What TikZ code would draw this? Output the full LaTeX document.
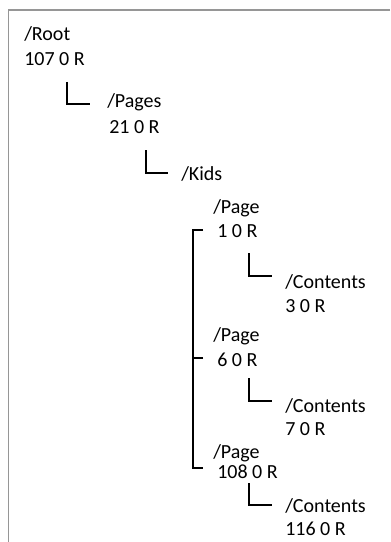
\documentclass[tikz,border=0pt]{standalone}
\usepackage{fontspec}
\setmainfont{Carlito}
\usetikzlibrary{calc}
\definecolor{framegray}{RGB}{150,150,150}
\begin{document}
\begin{tikzpicture}[x=0.75pt,y=-0.75pt,
  lbl/.style={anchor=base west, inner sep=0pt, font=\fontsize{15}{17}\selectfont},
  conn/.style={draw=black, line width=0.9pt},
  frame/.style={draw=framegray, line width=1.1pt}]
\useasboundingbox (0,0) rectangle (390,542);
\draw[frame] (390,10) -- (8.5,10) -- (8.5,542);
% labels
\node[lbl] (root)  at (24,41)  {/Root};
\node[lbl] (rootn) at (24,65)  {107 0 R};
\node[lbl] (pages) at (107,108) {/Pages};
\node[lbl] (pagesn) at (109,133) {21 0 R};
\node[lbl] (kids)  at (181,180) {/Kids};
\node[lbl] (p1)    at (213,213) {/Page};
\node[lbl] (n1)    at (217,237) {1 0 R};
\node[lbl] (c1)    at (285,288) {/Contents};
\node[lbl] (c1n)   at (285,312) {3 0 R};
\node[lbl] (p2)    at (213,341) {/Page};
\node[lbl] (n2)    at (217,366) {6 0 R};
\node[lbl] (c2)    at (285,412) {/Contents};
\node[lbl] (c2n)   at (285,435) {7 0 R};
\node[lbl] (p3)    at (213,458) {/Page};
\node[lbl] (n3)    at (217,478) {108 0 R};
\node[lbl] (c3)    at (285,512) {/Contents};
\node[lbl] (c3n)   at (285,535) {116 0 R};
% corners
\draw[conn] ($(rootn.base west)+(43,17)$) |- ($(pages.base west)+(-17,-4)$);
\draw[conn] ($(pagesn.base west)+(37,17)$) |- ($(kids.base west)+(-13,-7)$);
\draw[conn] ($(n1.base west)+(32,16)$) |- ($(c1.base west)+(-13,-12)$);
\draw[conn] ($(n2.base west)+(32,12)$) |- ($(c2.base west)+(-13,-11)$);
\draw[conn] ($(n3.base west)+(32,5)$) |- ($(c3.base west)+(-13,-7)$);
% bracket
\draw[conn] ($(n1.base west)+(-14,-7)$) -- ++(-10,0) |- ($(n3.base west)+(-14,-10)$);
\draw[conn] ($(n2.base west)+(-14,-8)$) -- ++(-10,0);
\end{tikzpicture}
\end{document}
